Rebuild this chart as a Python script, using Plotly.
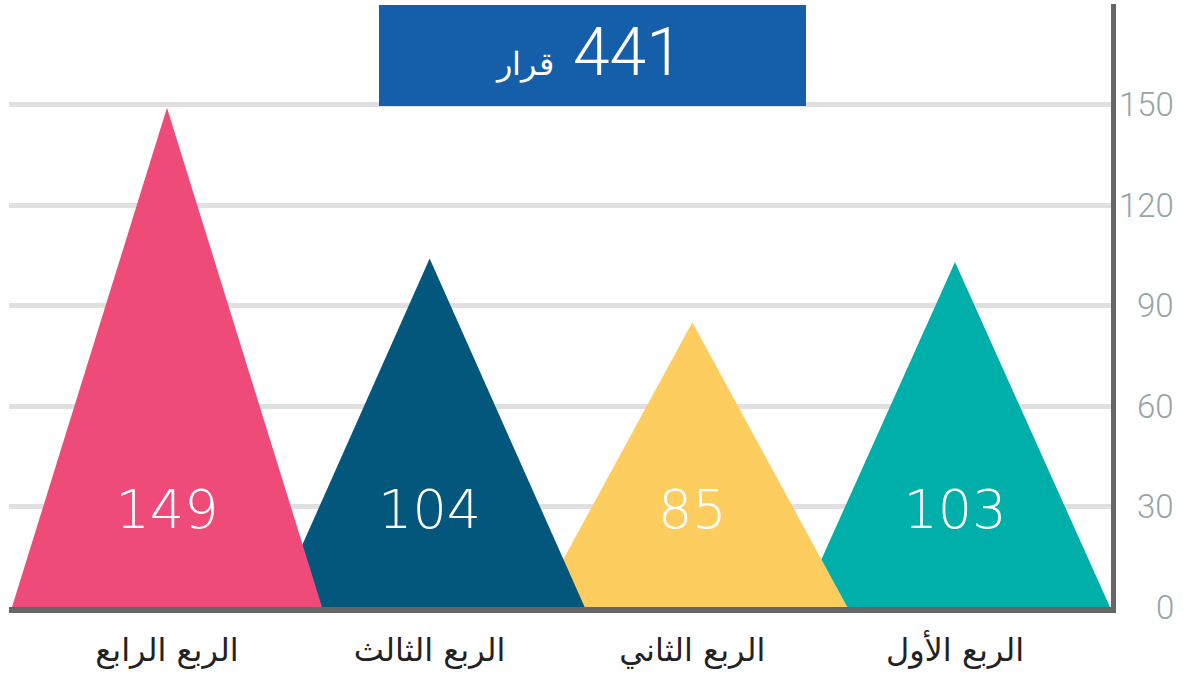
import plotly.graph_objects as go

# Data
quarters = ["الربع الأول", "الربع الثاني", "الربع الثالث", "الربع الرابع"]
values = [103, 85, 104, 149]
colors = ["#00AFA9", "#FDCD60", "#03577D", "#EF4B79"]
total_value = "441"
total_unit = "قرار"
y_ticks = [0, 30, 60, 90, 120, 150, 180]
y_tick_labels = ["0", "30", "60", "90", "120", "150", ""]

W, H = 1186, 675
L, R, T, B = 9, 1111, 4, 607
PW, PH = R - L, B - T
half = 0.59
label_y = 27.5


def px(x):
    return (x - L) / PW


def py(y):
    return (B - y) / PH


fig = go.Figure()
for i, (q, v, c) in enumerate(zip(quarters, values, colors)):
    fig.add_trace(go.Scatter(
        x=[i - half, i, i + half, i - half],
        y=[0, v, 0, 0],
        fill="toself", fillcolor=c, mode="lines",
        line=dict(width=0, color=c), hoverinfo="skip", showlegend=False))

fig.add_trace(go.Scatter(
    x=list(range(len(values))), y=[label_y] * len(values),
    text=[str(v) for v in values], mode="text", textposition="middle center",
    textfont=dict(family="DejaVu Sans", size=54, color="white", weight=200),
    hoverinfo="skip", showlegend=False))

# right-aligned y tick labels
for t, lab in zip(y_ticks, y_tick_labels):
    if lab:
        fig.add_annotation(x=1, xref="paper", y=t, yref="y", text=lab,
                           xanchor="right", yanchor="middle", xshift=1176 - R,
                           showarrow=False,
                           font=dict(family="Roboto", size=33, color="#95A5A6", weight=300))

# header box
fig.add_shape(type="rect", xref="paper", yref="paper",
              x0=px(379), x1=px(806), y0=py(106), y1=py(5),
              fillcolor="#155FAA", line=dict(width=0), layer="above")
fig.add_annotation(xref="paper", yref="paper", x=px(628), y=py(53),
                   text=total_value, showarrow=False, xanchor="center", yanchor="middle",
                   font=dict(family="Roboto", size=66, color="white", weight=300))
fig.add_annotation(xref="paper", yref="paper", x=px(524), y=py(64),
                   text=total_unit, showarrow=False, xanchor="center", yanchor="middle",
                   font=dict(family="DejaVu Sans", size=32, color="white", weight=200))

fig.update_layout(
    width=W, height=H,
    margin=dict(l=L, r=W - R, t=T, b=H - B),
    plot_bgcolor="white", paper_bgcolor="white",
    xaxis=dict(range=[(955 - L) / 262.67, (955 - R) / 262.67],
               tickvals=list(range(len(quarters))), ticktext=quarters,
               showgrid=False, zeroline=False, showline=True, linecolor="#666666", linewidth=6,
               ticks="", tickfont=dict(family="DejaVu Sans", size=32, color="#222222"),
               ticklabelstandoff=10),
    yaxis=dict(range=[0, 180], side="right", tickvals=y_ticks, showticklabels=False,
               showgrid=True, gridcolor="#E0E0E0", gridwidth=5, zeroline=False,
               showline=True, linecolor="#666666", linewidth=5, ticks=""),
)

fig.write_html("out.html")
